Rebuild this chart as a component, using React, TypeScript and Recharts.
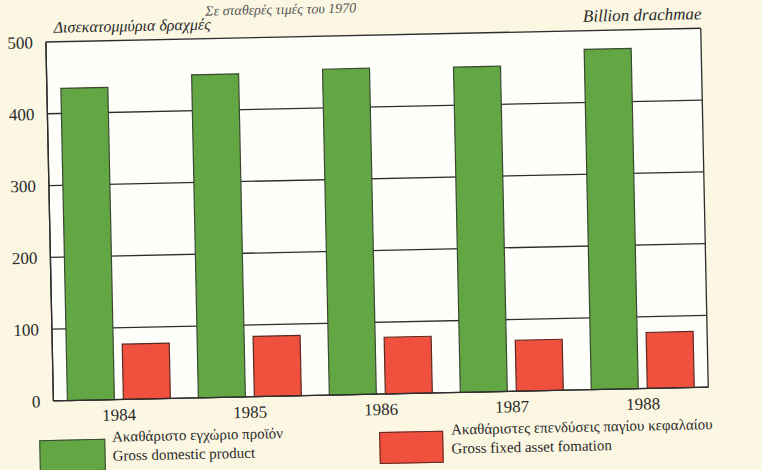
import React from 'react';
import { BarChart, Bar, XAxis, YAxis, CartesianGrid } from 'recharts';

// Σε σταθερές τιμές — δισεκατομμύρια δραχμές
const years = ['1984', '1985', '1986', '1987', '1988'];
const gdp = [435, 450, 454, 453, 474];
const gfcf = [77, 84, 79, 71, 78];
const yTicks = [0, 100, 200, 300, 400, 500];

const data = years.map((year, i) => ({ year, gdp: gdp[i], gfcf: gfcf[i] }));

const SERIF = '"Liberation Serif", "DejaVu Serif", serif';
const GREEN = '#62a744';
const RED = '#f0503e';

function LegendBox() {
  const text = { position: 'absolute' as const, fontFamily: SERIF, fontSize: 15, color: '#2a2a2a', lineHeight: '19px' };
  return (
    <div style={{ position: 'absolute', left: 0, top: 422, width: 762, height: 48 }}>
      <div style={{ position: 'absolute', left: 35, top: 11, width: 64, height: 30, background: GREEN, border: '1px solid #3a4a30' }} />
      <div style={{ ...text, left: 108, top: 0 }}>
        Ακαθάριστο εγχώριο προϊόν<br />Gross domestic product
      </div>
      <div style={{ position: 'absolute', left: 375, top: 10, width: 62, height: 30, background: RED, border: '1px solid #5a2a20' }} />
      <div style={{ ...text, left: 447, top: 0 }}>
        Ακαθάριστες επενδύσεις παγίου κεφαλαίου<br />Gross fixed asset fomation
      </div>
    </div>
  );
}

export default function App() {
  return (
    <div style={{ position: 'fixed', left: 0, top: 0, width: 762, height: 470, background: '#fcf7e2', overflow: 'hidden' }}>
      <div style={{ position: 'absolute', left: 0, top: 0, width: 762, height: 470, transform: 'rotate(-1.2deg)', transformOrigin: '381px 235px' }}>
        {/* заголовок сверху */}
        <div style={{ position: 'absolute', left: 210, top: 0, fontFamily: SERIF, fontStyle: 'italic', fontSize: 14, color: '#555' }}>
          Σε σταθερές τιμές του 1970
        </div>
        <div style={{ position: 'absolute', left: 58, top: 12, fontFamily: SERIF, fontStyle: 'italic', fontSize: 16, color: '#2a2a2a' }}>
          Δισεκατομμύρια δραχμές
        </div>
        <div style={{ position: 'absolute', right: 56, top: 11, fontFamily: SERIF, fontStyle: 'italic', fontSize: 17, color: '#2a2a2a' }}>
          Billion drachmae
        </div>

        <BarChart
          width={762}
          height={470}
          data={data}
          margin={{ top: 35, right: 57, bottom: 46, left: 6 }}
          barSize={47}
          barGap={9}
        >
          <CartesianGrid
            fill="#fefefb"
            stroke="#2e2e2e"
            strokeWidth={1.3}
            verticalCoordinatesGenerator={({ offset }: any) => [offset.left, offset.left + offset.width]}
          />
          <XAxis
            dataKey="year"
            axisLine={{ stroke: '#2e2e2e', strokeWidth: 1.3 }}
            tickLine={false}
            tickSize={0}
            tickMargin={9}
            height={30}
            tick={{ fontFamily: SERIF, fontSize: 17, fill: '#2a2a2a' }}
          />
          <YAxis
            domain={[0, 500]}
            ticks={yTicks}
            width={44}
            axisLine={{ stroke: '#2e2e2e', strokeWidth: 1.3 }}
            tickLine={false}
            tickSize={0}
            tickMargin={13}
            tick={{ fontFamily: SERIF, fontSize: 17, fill: '#2a2a2a' }}
          />
          <Bar dataKey="gdp" name="Gross domestic product" fill={GREEN} stroke="#3a4a30" strokeWidth={1.2} isAnimationActive={false} />
          <Bar dataKey="gfcf" name="Gross fixed asset fomation" fill={RED} stroke="#5a2a20" strokeWidth={1.2} isAnimationActive={false} />
        </BarChart>
        <LegendBox />
      </div>
    </div>
  );
}
